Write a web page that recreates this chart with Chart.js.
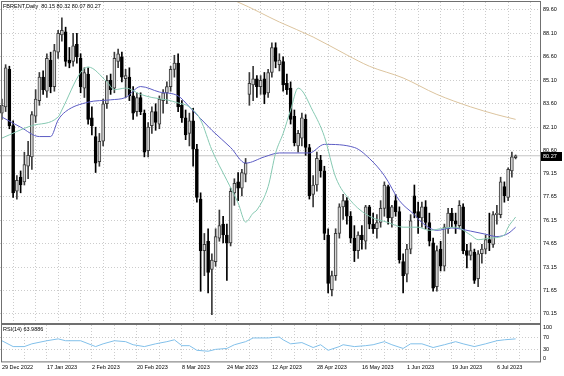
<!DOCTYPE html>
<html>
<head>
<meta charset="utf-8">
<script src="https://cdn.jsdelivr.net/npm/chart.js@4/dist/chart.umd.min.js"></script>
<style>
  html, body { margin: 0; padding: 0; background: #fff; }
  #wrap { position: relative; width: 564px; height: 376px; overflow: hidden; }
  canvas { position: absolute; left: 0; }
  #mainChart { top: 0; }
  #rsiChart { top: 324px; }
</style>
</head>
<body>
<div id="wrap">
  <canvas id="mainChart" width="564" height="324"></canvas>
  <canvas id="rsiChart" width="564" height="52"></canvas>
</div>
<script>
// Datos diarios FBRENT (29 Dec 2022 - 13 Jul 2023), una vela por barra
const opens = [83.0, 83.4, 85.8, 82.2, 78.0, 78.9, 78.6, 79.6, 80.2, 82.8,
  83.8, 85.3, 84.4, 86.4, 84.7, 86.9, 88.0, 88.2, 86.4, 86.3,
  87.4, 86.5, 84.6, 85.5, 82.7, 81.5, 79.9, 81.2, 83.6, 85.1,
  84.6, 86.3, 86.6, 85.2, 85.3, 84.1, 83.1, 84.0, 83.0, 80.6,
  82.2, 83.1, 82.3, 83.8, 84.3, 84.7, 85.8, 86.2, 83.5, 82.7,
  81.7, 82.5, 80.7, 77.5, 74.2, 74.8, 73.0, 73.5, 75.0, 75.9,
  75.2, 74.7, 77.9, 78.6, 78.2, 79.1, 84.2, 84.8, 85.2, 84.7,
  85.2, 84.3, 85.6, 87.2, 86.1, 86.3, 84.9, 84.6, 82.8, 80.9,
  81.4, 82.6, 80.8, 77.8, 78.4, 80.0, 79.3, 75.2, 71.7, 72.6,
  75.3, 77.0, 77.4, 76.4, 75.0, 74.2, 75.2, 74.8, 77.0, 75.9,
  75.6, 76.0, 76.9, 78.3, 76.3, 77.4, 76.7, 73.5, 72.7, 74.3,
  77.7, 76.7, 76.3, 77.0, 76.0, 74.7, 71.9, 74.3, 73.2, 75.6,
  76.6, 76.1, 75.8, 77.0, 74.2, 73.9, 74.1, 72.4, 74.0, 74.3,
  74.9, 74.6, 76.5, 76.5, 78.3, 77.6, 79.3, 80.15];
const highs = [83.9, 86.1, 86.0, 82.5, 79.0, 79.3, 80.5, 81.2, 83.1, 84.5,
  85.6, 85.7, 86.8, 86.9, 87.4, 88.3, 89.1, 88.5, 87.2, 88.1,
  88.1, 86.8, 85.9, 85.9, 83.4, 82.1, 81.7, 83.9, 85.4, 85.5,
  86.9, 87.1, 86.9, 85.8, 85.9, 84.7, 84.3, 84.3, 83.2, 82.4,
  83.4, 83.6, 84.1, 84.5, 85.0, 86.0, 86.7, 86.8, 83.8, 83.2,
  83.0, 83.3, 81.0, 77.9, 75.3, 75.6, 74.0, 75.6, 76.8, 76.4,
  75.9, 78.2, 78.8, 79.2, 79.4, 80.1, 85.6, 86.0, 85.4, 85.4,
  85.6, 85.8, 87.5, 87.5, 86.8, 86.6, 85.5, 85.0, 83.2, 81.9,
  83.0, 82.9, 81.0, 79.0, 80.5, 80.3, 79.6, 75.6, 72.9, 75.6,
  77.2, 77.8, 77.6, 76.7, 75.8, 75.4, 75.8, 77.1, 77.1, 76.6,
  76.5, 77.4, 78.6, 78.4, 77.1, 77.8, 77.0, 74.0, 74.6, 76.5,
  78.4, 77.3, 77.3, 77.4, 76.6, 75.0, 74.5, 74.8, 75.9, 76.9,
  76.9, 76.6, 77.4, 77.2, 74.6, 74.7, 74.3, 74.2, 74.6, 75.2,
  76.6, 76.7, 77.1, 78.9, 78.6, 79.5, 80.5, 80.32];
const lows = [82.6, 83.1, 82.0, 77.6, 77.5, 77.9, 78.4, 78.8, 79.4, 82.4,
  83.5, 84.2, 84.0, 84.3, 84.4, 86.5, 87.6, 86.0, 85.9, 86.0,
  86.2, 84.3, 84.0, 82.3, 81.6, 79.2, 79.6, 80.9, 83.3, 84.2,
  84.3, 85.9, 85.0, 84.0, 83.8, 82.6, 82.8, 82.9, 80.2, 80.2,
  81.7, 81.9, 82.0, 83.0, 83.6, 84.4, 85.3, 83.1, 82.4, 81.3,
  80.9, 79.6, 77.3, 71.6, 72.6, 71.5, 70.1, 73.2, 74.8, 74.7,
  72.3, 74.5, 77.1, 77.4, 77.7, 78.6, 83.5, 83.8, 84.0, 84.2,
  83.6, 84.0, 85.3, 85.9, 85.7, 84.4, 84.2, 82.3, 80.9, 80.5,
  80.9, 80.3, 77.5, 77.0, 78.0, 78.9, 74.9, 71.5, 71.3, 72.3,
  75.0, 76.2, 75.9, 74.7, 73.5, 73.7, 74.3, 74.3, 75.6, 75.3,
  75.0, 75.7, 76.4, 75.9, 75.7, 76.4, 73.4, 71.5, 72.2, 74.0,
  76.3, 75.3, 75.7, 75.6, 74.5, 71.6, 71.6, 72.9, 72.9, 75.3,
  75.7, 75.3, 75.6, 74.0, 73.1, 73.6, 72.1, 71.9, 73.4, 74.0,
  74.2, 74.4, 75.9, 76.3, 77.3, 77.4, 78.9, 80.07];
const closes = [83.5, 85.9, 82.2, 77.9, 78.7, 78.4, 79.7, 80.3, 82.9, 83.9,
  85.3, 84.5, 86.5, 84.7, 87.0, 88.1, 88.3, 86.3, 86.2, 87.3,
  86.6, 84.7, 85.6, 82.6, 82.2, 79.8, 81.2, 83.6, 85.1, 84.5,
  86.5, 86.8, 85.3, 85.4, 84.1, 83.0, 84.0, 83.1, 80.5, 82.1,
  83.1, 82.4, 83.9, 84.3, 84.7, 85.8, 86.2, 83.4, 82.7, 81.6,
  82.5, 80.7, 77.6, 74.2, 74.6, 72.8, 73.6, 75.1, 75.8, 75.2,
  74.7, 78.0, 78.5, 78.2, 79.2, 79.8, 84.9, 85.2, 84.7, 85.1,
  84.2, 85.6, 87.2, 86.3, 86.4, 84.8, 84.5, 82.6, 81.1, 81.7,
  82.7, 80.8, 77.7, 78.4, 80.1, 79.3, 75.3, 72.1, 72.6, 75.3,
  77.0, 77.4, 76.4, 75.0, 74.2, 75.2, 74.9, 77.0, 75.9, 75.6,
  76.0, 76.9, 78.4, 76.3, 77.0, 76.7, 73.6, 72.6, 74.3, 76.1,
  76.6, 76.3, 77.0, 76.0, 74.8, 71.8, 74.2, 73.2, 75.7, 76.6,
  76.1, 75.9, 77.1, 74.2, 73.9, 74.2, 72.3, 74.0, 74.3, 74.9,
  74.7, 76.5, 76.6, 78.6, 77.7, 79.4, 80.2, 80.27];

// Medias móviles: [barra, precio]
const maFast = [[0, 81.4], [8, 82.2], [15, 82.75], [16, 83.2], [21, 85.6], [23, 85.95],
  [28, 85.0], [30, 84.5], [33, 84.6], [37, 84.2], [40, 84.0], [44, 83.85], [47, 83.65],
  [50, 83.4], [53, 82.56], [56, 80.64], [60, 78.7], [63, 77.25], [65, 76.03], [67, 76.6],
  [68, 76.8], [71, 78.3], [73, 80.45], [75, 81.7], [77, 83.2], [79, 84.6], [83, 83.1],
  [86, 81.5], [89, 78.9], [93, 77.4], [98, 76.4], [103, 76.0], [107, 75.7], [111, 75.7],
  [114, 75.5], [118, 75.65], [121, 75.7], [125, 75.2], [127, 74.9], [130, 75.0],
  [134, 75.2], [135, 75.7], [137, 76.35]];
const maSlow = [[0, 82.75], [5, 82.1], [10, 81.5], [13, 81.5], [15, 82.56], [17, 83.1],
  [23, 83.7], [29, 83.85], [33, 84.0], [37, 84.7], [42, 84.35], [47, 84.1], [50, 83.4],
  [56, 81.9], [61, 80.8], [65, 79.8], [70, 80.2], [74, 80.45], [82, 80.45], [86, 81.0],
  [94, 80.8], [98, 80.1], [102, 79.0], [106, 77.4], [110, 76.5], [112, 76.0], [116, 75.5],
  [120, 75.65], [125, 75.45], [129, 75.25], [132, 75.1], [135, 75.3], [137, 75.7]];
const maLong = [[55, 90.8], [63, 90.1], [74, 88.83], [83, 87.87], [92, 86.72], [98, 86.0],
  [107, 85.25], [116, 84.2], [125, 83.4], [132, 82.9], [137, 82.6]];

// RSI(14): [barra, valor]
const rsiValues = [[0, 58], [3, 39], [6, 39], [8, 48], [12, 58], [15, 64], [17, 58], [21, 58],
  [25, 39], [27, 48], [30, 58], [33, 55], [35, 45], [38, 39], [41, 48], [44, 55], [46, 61],
  [48, 42], [50, 42], [52, 27], [55, 24], [57, 30], [60, 33], [62, 45], [65, 55], [67, 67],
  [71, 67], [74, 70], [75, 61], [77, 48], [80, 52], [83, 36], [85, 45], [87, 27], [90, 39],
  [91, 45], [94, 39], [97, 42], [99, 45], [102, 55], [104, 45], [107, 33], [109, 48],
  [112, 48], [115, 36], [118, 45], [121, 55], [123, 48], [126, 39], [129, 48], [132, 58],
  [134, 61], [137, 64]];

const dateLabels = ['29 Dec 2022', '17 Jan 2023', '2 Feb 2023', '20 Feb 2023', '8 Mar 2023',
  '24 Mar 2023', '12 Apr 2023', '28 Apr 2023', '16 May 2023', '1 Jun 2023', '19 Jun 2023', '6 Jul 2023'];
const priceTicks = [89.60, 88.10, 86.60, 85.10, 83.60, 82.10, 80.60, 79.15, 77.65, 76.15, 74.65, 73.15, 71.65, 70.15];
const rsiTicks = [0, 30, 70, 100];

const X_MIN = -0.5, X_MAX = 143.5;
const FONT = { family: 'Liberation Sans, Arial, sans-serif', size: 5.5 };
const GRID = '#cccccc';
const gridIdx = [];
for (let i = 0; i <= 142; i += 6) gridIdx.push(i);

const idx = closes.map((_, i) => i);
const pairs = arr => arr.map(p => ({ x: p[0], y: p[1] }));

// quitar el relleno que Chart.js añade para las etiquetas extremas
function noPad(s) {
    s.paddingTop = 0;
    s.paddingBottom = 0;
    s.paddingLeft = 0;
    s.paddingRight = 0;
}

// Marco del panel y textos
function framePlugin(title) {
    return {
        id: 'frame',
        afterDraw(chart) {
            const ctx = chart.ctx;
            const a = chart.chartArea;
            ctx.save();
            ctx.strokeStyle = '#707070';
            ctx.lineWidth = 1;
            ctx.strokeRect(1.5, a.top - 0.5, a.right - 1, a.bottom - a.top + 1);
            ctx.fillStyle = '#000';
            ctx.font = FONT.size + 'px ' + FONT.family;
            ctx.textBaseline = 'middle';
            ctx.textAlign = 'left';
            ctx.fillText(title, 3, a.top + 4);
            ctx.restore();
        }
    };
}

const lastClose = closes[closes.length - 1];
const priceBox = {
    id: 'priceBox',
    afterDraw(chart) {
        const ctx = chart.ctx;
        const y = chart.scales.y.getPixelForValue(lastClose);
        ctx.save();
        ctx.fillStyle = '#000';
        ctx.fillRect(541, Math.round(y) - 4, 21, 9);
        ctx.fillStyle = '#fff';
        ctx.font = FONT.size + 'px ' + FONT.family;
        ctx.textBaseline = 'middle';
        ctx.fillText(lastClose.toFixed(2), 543, Math.round(y) + 0.5);
        ctx.restore();
    }
};

document.addEventListener('DOMContentLoaded', function () {
    Chart.defaults.font.family = FONT.family;

    // Gráfico principal de velas
    new Chart(document.getElementById('mainChart'), {
        type: 'bar',
        data: {
            datasets: [
                {
                    type: 'line',
                    data: pairs(maFast),
                    borderColor: '#86c9b2',
                    borderWidth: 1,
                    pointRadius: 0,
                    cubicInterpolationMode: 'monotone',
                    order: 0
                },
                {
                    type: 'line',
                    data: pairs(maSlow),
                    borderColor: '#5c5cc4',
                    borderWidth: 1,
                    pointRadius: 0,
                    cubicInterpolationMode: 'monotone',
                    order: 0
                },
                {
                    type: 'line',
                    data: pairs(maLong),
                    borderColor: '#dcc49e',
                    borderWidth: 1,
                    pointRadius: 0,
                    cubicInterpolationMode: 'monotone',
                    order: 0
                },
                {
                    data: idx.map(i => ({ x: i, y: [opens[i], closes[i]] })),
                    backgroundColor: idx.map(i => closes[i] >= opens[i] ? '#d6d6d6' : '#000'),
                    borderColor: idx.map(i => closes[i] >= opens[i] ? '#3a3a3a' : '#000'),
                    borderWidth: 1,
                    borderSkipped: false,
                    barThickness: 3,
                    minBarLength: 1,
                    grouped: false,
                    order: 1
                },
                {
                    data: idx.map(i => ({ x: i, y: [lows[i], highs[i]] })),
                    backgroundColor: idx.map(i => closes[i] >= opens[i] ? '#3a3a3a' : '#000'),
                    barThickness: 1,
                    grouped: false,
                    order: 2
                },
                {
                    type: 'line',
                    data: [{ x: X_MIN, y: lastClose }, { x: X_MAX, y: lastClose }],
                    borderColor: '#c4c4c4',
                    borderWidth: 1,
                    pointRadius: 0,
                    order: 3
                }
            ]
        },
        options: {
            responsive: false,
            animation: false,
            devicePixelRatio: 1,
            layout: { padding: { top: 2, bottom: 1, left: 0, right: 0 } },
            plugins: { legend: { display: false }, tooltip: { enabled: false } },
            scales: {
                x: {
                    type: 'linear',
                    min: X_MIN,
                    max: X_MAX,
                    offset: false,
                    afterBuildTicks: s => { s.ticks = gridIdx.map(v => ({ value: v })); },
                    afterFit: noPad,
                    ticks: { display: false },
                    grid: { color: GRID, drawTicks: false },
                    border: { display: false, dash: [1, 2] }
                },
                y: {
                    position: 'right',
                    min: 69.57,
                    max: 90.11,
                    afterBuildTicks: s => { s.ticks = priceTicks.map(v => ({ value: v })); },
                    afterFit: s => { noPad(s); s.width = 24; },
                    ticks: {
                        font: FONT,
                        color: '#000',
                        padding: 3,
                        autoSkip: false,
                        callback: v => v.toFixed(2)
                    },
                    grid: { color: GRID, drawTicks: false },
                    border: { display: false, dash: [1, 2] }
                }
            }
        },
        plugins: [framePlugin('FBRENT,Daily  ' + [opens, highs, lows, closes].map(a => a[a.length - 1].toFixed(2)).join(' ')), priceBox]
    });

    // Panel RSI
    new Chart(document.getElementById('rsiChart'), {
        type: 'line',
        data: {
            datasets: [{
                data: pairs(rsiValues),
                borderColor: '#82c0ea',
                borderWidth: 1,
                pointRadius: 0,
                tension: 0
            }]
        },
        options: {
            responsive: false,
            animation: false,
            devicePixelRatio: 1,
            layout: { padding: { top: 1, bottom: 2, left: 0, right: 0 } },
            plugins: { legend: { display: false }, tooltip: { enabled: false } },
            scales: {
                x: {
                    type: 'linear',
                    min: X_MIN,
                    max: X_MAX,
                    afterBuildTicks: s => { s.ticks = gridIdx.map(v => ({ value: v })); },
                    afterFit: noPad,
                    ticks: {
                        font: FONT,
                        color: '#000',
                        padding: 3,
                        align: 'start',
                        autoSkip: false,
                        maxRotation: 0,
                        callback: v => (v % 12 === 0 && dateLabels[v / 12]) ? dateLabels[v / 12] : ''
                    },
                    grid: { color: GRID, drawTicks: false },
                    border: { display: false, dash: [1, 2] }
                },
                y: {
                    position: 'right',
                    min: -9,
                    max: 109,
                    afterBuildTicks: s => { s.ticks = rsiTicks.map(v => ({ value: v })); },
                    afterFit: s => { noPad(s); s.width = 24; },
                    ticks: { font: FONT, color: '#000', padding: 3, autoSkip: false },
                    grid: {
                        color: c => (c.tick && (c.tick.value === 30 || c.tick.value === 70)) ? GRID : 'rgba(0,0,0,0)',
                        drawTicks: false
                    },
                    border: { display: false, dash: [1, 2] }
                }
            }
        },
        plugins: [framePlugin('RSI(14) 63.9886')]
    });
});
</script>
</body>
</html>
